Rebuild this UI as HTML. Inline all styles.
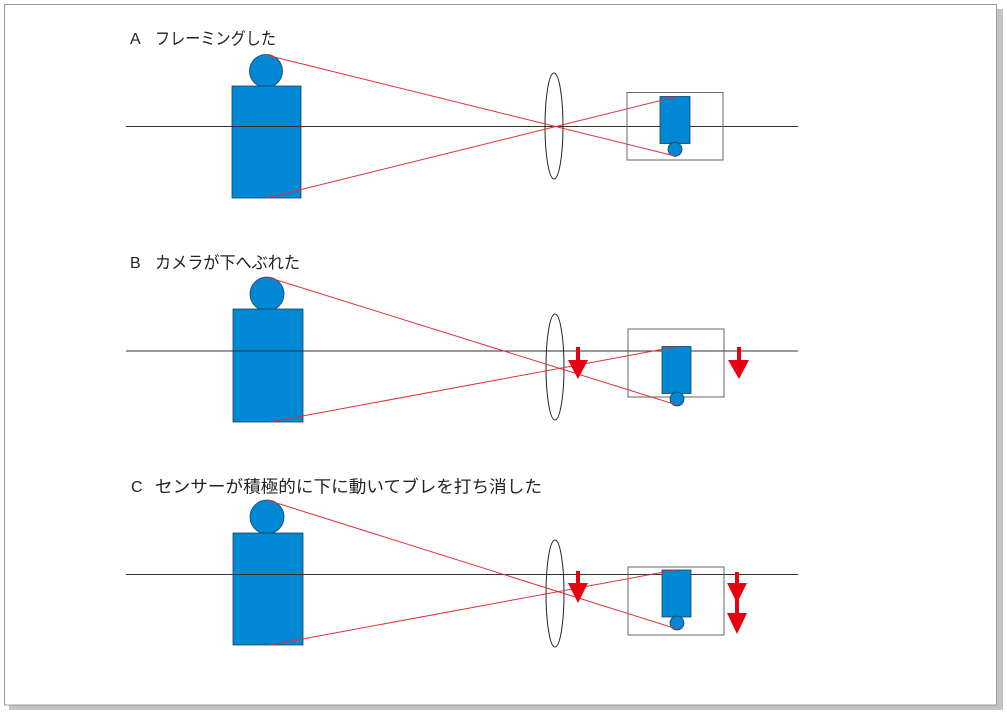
<!DOCTYPE html>
<html>
<head>
<meta charset="utf-8">
<style>
html,body{margin:0;padding:0;background:#fff;}
body{width:1007px;height:714px;overflow:hidden;position:relative;}
svg{position:absolute;left:0;top:0;}
text{font-family:"Liberation Sans","Noto Sans CJK JP",sans-serif;fill:#222;}
</style>
</head>
<body>
<svg width="1007" height="714" viewBox="0 0 1007 714" xmlns="http://www.w3.org/2000/svg">
  <!-- page shadow -->
  <rect x="997" y="9" width="6" height="701" fill="#c4c4c4"/>
  <rect x="9" y="705" width="994" height="5" fill="#c4c4c4"/>
  <!-- page -->
  <rect x="4.5" y="4.5" width="992" height="700.5" fill="#fff" stroke="#9a9a9a" stroke-width="1"/>

  <!-- ========== A ========== -->
  <text x="130" y="44" font-size="16">A</text>
  <text x="155" y="44.5" font-size="17" textLength="121" lengthAdjust="spacingAndGlyphs">フレーミングした</text>

  <circle cx="266" cy="71" r="16.5" fill="#0088d4" stroke="#1d3f5f" stroke-width="0.8"/>
  <rect x="232" y="86" width="69" height="112" fill="#0088d4" stroke="#1d3f5f" stroke-width="0.8"/>
  <line x1="126" y1="126.5" x2="798" y2="126.5" stroke="#333" stroke-width="1"/>
  <ellipse cx="554" cy="126" rx="9" ry="53" fill="none" stroke="#222" stroke-width="1"/>
  <rect x="627" y="92.5" width="96" height="67.5" fill="none" stroke="#666" stroke-width="1"/>
  <rect x="660" y="96.5" width="30" height="47" fill="#0088d4" stroke="#1d3f5f" stroke-width="0.8"/>
  <circle cx="675" cy="149.3" r="7" fill="#0088d4" stroke="#1d3f5f" stroke-width="0.8"/>
  <line x1="266" y1="55" x2="675" y2="156" stroke="#e0303a" stroke-width="1"/>
  <line x1="267" y1="198" x2="675" y2="97" stroke="#e0303a" stroke-width="1"/>

  <!-- ========== B ========== -->
  <text x="130" y="268" font-size="16">B</text>
  <text x="155" y="268.5" font-size="17" textLength="145" lengthAdjust="spacingAndGlyphs">カメラが下へぶれた</text>

  <circle cx="267" cy="294" r="17" fill="#0088d4" stroke="#1d3f5f" stroke-width="0.8"/>
  <rect x="233" y="309" width="70" height="113" fill="#0088d4" stroke="#1d3f5f" stroke-width="0.8"/>
  <line x1="126" y1="351" x2="798" y2="351" stroke="#333" stroke-width="1"/>
  <ellipse cx="555" cy="367" rx="9" ry="53" fill="none" stroke="#222" stroke-width="1"/>
  <rect x="628" y="329" width="96" height="68" fill="none" stroke="#666" stroke-width="1"/>
  <rect x="662" y="346.5" width="29" height="47" fill="#0088d4" stroke="#1d3f5f" stroke-width="0.8"/>
  <circle cx="677" cy="399" r="7" fill="#0088d4" stroke="#1d3f5f" stroke-width="0.8"/>
  <line x1="267" y1="277" x2="677" y2="405" stroke="#e0303a" stroke-width="1"/>
  <line x1="270" y1="422" x2="675" y2="347" stroke="#e0303a" stroke-width="1"/>
  <!-- arrows B -->
  <rect x="576" y="347" width="4" height="14" fill="#e60012"/>
  <polygon points="568,360 588,360 578,379" fill="#e60012"/>
  <rect x="737" y="347" width="4" height="14" fill="#e60012"/>
  <polygon points="728,360 749,360 739,379" fill="#e60012"/>

  <!-- ========== C ========== -->
  <text x="131" y="492" font-size="16">C</text>
  <text x="155" y="492.5" font-size="17" textLength="387" lengthAdjust="spacingAndGlyphs">センサーが積極的に下に動いてブレを打ち消した</text>

  <circle cx="267" cy="517" r="17" fill="#0088d4" stroke="#1d3f5f" stroke-width="0.8"/>
  <rect x="233" y="533" width="70" height="112" fill="#0088d4" stroke="#1d3f5f" stroke-width="0.8"/>
  <line x1="126" y1="574.5" x2="798" y2="574.5" stroke="#333" stroke-width="1"/>
  <ellipse cx="555" cy="593.5" rx="9" ry="53.5" fill="none" stroke="#222" stroke-width="1"/>
  <rect x="628" y="567" width="96" height="68" fill="none" stroke="#666" stroke-width="1"/>
  <rect x="662" y="570" width="29" height="47" fill="#0088d4" stroke="#1d3f5f" stroke-width="0.8"/>
  <circle cx="677" cy="623" r="7" fill="#0088d4" stroke="#1d3f5f" stroke-width="0.8"/>
  <line x1="267" y1="500" x2="677" y2="629" stroke="#e0303a" stroke-width="1"/>
  <line x1="270" y1="645" x2="675" y2="570" stroke="#e0303a" stroke-width="1"/>
  <!-- arrows C -->
  <rect x="576" y="571" width="4" height="13" fill="#e60012"/>
  <polygon points="568,583 588,583 578,603" fill="#e60012"/>
  <rect x="735" y="572" width="4" height="42" fill="#e60012"/>
  <polygon points="727,583 747,583 737,603" fill="#e60012"/>
  <polygon points="727,613 747,613 737,634" fill="#e60012"/>
</svg>
</body>
</html>
